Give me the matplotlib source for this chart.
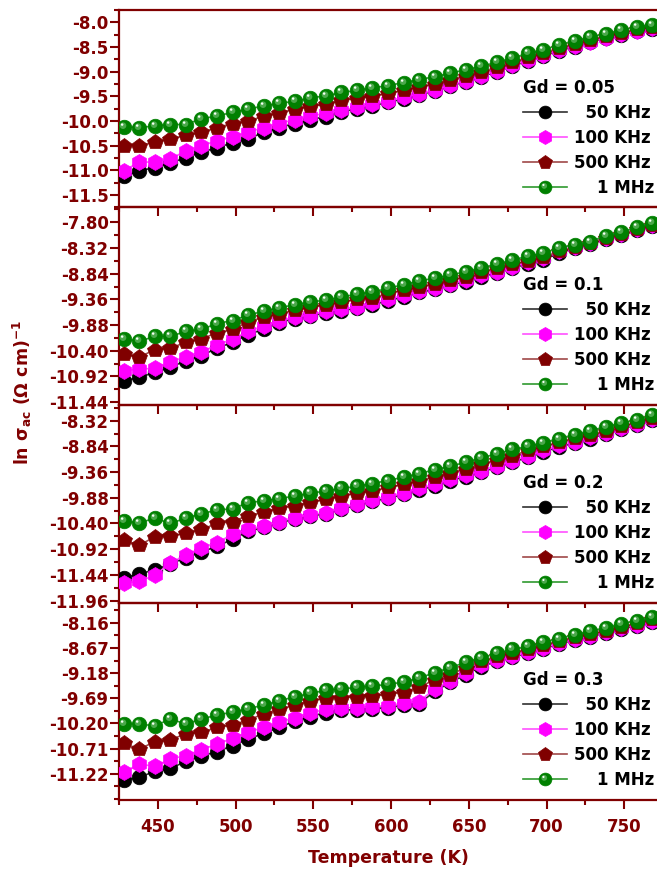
import numpy as np
import matplotlib
matplotlib.use("Agg")
import matplotlib.pyplot as plt
from matplotlib.ticker import FixedLocator, AutoMinorLocator, MultipleLocator
from matplotlib.path import Path
from matplotlib.markers import MarkerStyle
from matplotlib.legend_handler import HandlerTuple

plt.rcParams['font.family'] = ['DejaVu Sans']
plt.rcParams['font.weight'] = 'bold'
plt.rcParams['mathtext.default'] = 'bf'
plt.rcParams['axes.unicode_minus'] = False

# temperatura (K)
temps = [428, 438, 448, 458, 468, 478, 488, 498, 508, 518, 528, 538, 548, 558, 568, 578, 588,
         598, 608, 618, 628, 638, 648, 658, 668, 678, 688, 698, 708, 718, 728, 738, 748, 758, 768]

freq_labels = ['  50 KHz', '100 KHz', '500 KHz', '    1 MHz']
gd_labels = ['Gd = 0.05', 'Gd = 0.1', 'Gd = 0.2', 'Gd = 0.3']

# Gd = 0.05
gd005_50k = [-11.12, -11.01, -10.94, -10.85, -10.74, -10.63, -10.54, -10.44, -10.36, -10.23, -10.13, -10.05,
             -9.97, -9.91, -9.81, -9.75, -9.69, -9.62, -9.55, -9.47, -9.39, -9.29, -9.20, -9.10, -9.00,
             -8.89, -8.78, -8.68, -8.58, -8.49, -8.40, -8.32, -8.25, -8.18, -8.13]
gd005_100k = [-11.01, -10.83, -10.83, -10.76, -10.61, -10.50, -10.40, -10.32, -10.23, -10.13, -10.05, -9.97,
              -9.90, -9.84, -9.78, -9.72, -9.66, -9.59, -9.52, -9.45, -9.37, -9.27, -9.18, -9.08, -8.98,
              -8.87, -8.76, -8.66, -8.56, -8.47, -8.39, -8.31, -8.24, -8.17, -8.12]
gd005_500k = [-10.50, -10.50, -10.42, -10.36, -10.29, -10.23, -10.13, -10.05, -10.00, -9.90, -9.83, -9.76,
              -9.70, -9.66, -9.58, -9.54, -9.49, -9.44, -9.38, -9.31, -9.24, -9.16, -9.08, -9.00, -8.91,
              -8.81, -8.71, -8.62, -8.52, -8.43, -8.35, -8.28, -8.21, -8.14, -8.10]
gd005_1m = [-10.12, -10.13, -10.10, -10.07, -10.07, -9.95, -9.90, -9.82, -9.76, -9.69, -9.64, -9.60,
            -9.53, -9.49, -9.42, -9.38, -9.33, -9.28, -9.22, -9.16, -9.10, -9.03, -8.96, -8.89, -8.81,
            -8.72, -8.63, -8.55, -8.46, -8.37, -8.30, -8.23, -8.16, -8.09, -8.05]

# Gd = 0.1
gd01_50k = [-11.01, -10.94, -10.84, -10.74, -10.60, -10.50, -10.35, -10.23, -10.08, -9.96, -9.83, -9.75,
            -9.70, -9.63, -9.59, -9.54, -9.47, -9.39, -9.31, -9.22, -9.16, -9.07, -9.00, -8.90, -8.83,
            -8.73, -8.64, -8.56, -8.42, -8.33, -8.24, -8.13, -8.06, -7.96, -7.87]
gd01_100k = [-10.81, -10.77, -10.76, -10.62, -10.53, -10.43, -10.28, -10.17, -10.01, -9.90, -9.79, -9.72,
             -9.67, -9.60, -9.56, -9.51, -9.44, -9.36, -9.28, -9.19, -9.13, -9.04, -8.97, -8.87, -8.80,
             -8.70, -8.61, -8.53, -8.38, -8.29, -8.21, -8.11, -8.04, -7.94, -7.85]
gd01_500k = [-10.47, -10.53, -10.38, -10.35, -10.23, -10.16, -10.04, -9.97, -9.82, -9.72, -9.65, -9.58,
             -9.51, -9.48, -9.41, -9.36, -9.33, -9.24, -9.17, -9.11, -9.04, -8.97, -8.90, -8.80, -8.73,
             -8.65, -8.58, -8.51, -8.39, -8.31, -8.22, -8.11, -8.04, -7.94, -7.85]
gd01_1m = [-10.16, -10.21, -10.11, -10.11, -10.01, -9.97, -9.85, -9.79, -9.68, -9.60, -9.53, -9.47,
           -9.41, -9.38, -9.31, -9.26, -9.21, -9.14, -9.06, -8.99, -8.93, -8.87, -8.80, -8.72, -8.65,
           -8.56, -8.49, -8.42, -8.32, -8.25, -8.19, -8.07, -8.00, -7.90, -7.81]

# Gd = 0.2
gd02_50k = [-11.50, -11.42, -11.34, -11.22, -11.09, -10.98, -10.86, -10.72, -10.56, -10.48, -10.39, -10.31,
            -10.25, -10.20, -10.11, -10.03, -9.95, -9.89, -9.81, -9.72, -9.64, -9.53, -9.45, -9.36, -9.26,
            -9.16, -9.06, -8.95, -8.85, -8.77, -8.68, -8.58, -8.49, -8.40, -8.31]
gd02_100k = [-11.61, -11.57, -11.45, -11.20, -11.04, -10.89, -10.79, -10.62, -10.52, -10.45, -10.36, -10.28,
             -10.22, -10.18, -10.08, -10.00, -9.92, -9.86, -9.78, -9.69, -9.61, -9.50, -9.42, -9.33, -9.23,
             -9.13, -9.03, -8.92, -8.82, -8.74, -8.65, -8.56, -8.47, -8.38, -8.29]
gd02_500k = [-10.74, -10.84, -10.67, -10.66, -10.59, -10.52, -10.40, -10.36, -10.24, -10.17, -10.09, -10.04,
             -9.97, -9.91, -9.84, -9.78, -9.74, -9.67, -9.61, -9.54, -9.45, -9.37, -9.29, -9.20, -9.11,
             -9.03, -8.92, -8.84, -8.75, -8.67, -8.61, -8.52, -8.43, -8.35, -8.26]
gd02_1m = [-10.35, -10.39, -10.29, -10.40, -10.29, -10.20, -10.13, -10.10, -9.98, -9.94, -9.90, -9.84,
           -9.79, -9.74, -9.69, -9.65, -9.59, -9.53, -9.46, -9.39, -9.31, -9.24, -9.16, -9.07, -8.99,
           -8.90, -8.84, -8.76, -8.68, -8.60, -8.52, -8.44, -8.37, -8.30, -8.20]

# Gd = 0.3
gd03_50k = [-11.35, -11.29, -11.17, -11.11, -10.97, -10.86, -10.77, -10.65, -10.52, -10.40, -10.28, -10.15,
            -10.06, -9.98, -9.93, -9.92, -9.90, -9.88, -9.83, -9.80, -9.55, -9.37, -9.21, -9.05, -8.94,
            -8.86, -8.77, -8.69, -8.59, -8.51, -8.44, -8.37, -8.29, -8.22, -8.15]
gd03_100k = [-11.19, -11.02, -11.07, -10.92, -10.85, -10.73, -10.62, -10.50, -10.38, -10.28, -10.18, -10.08,
             -9.99, -9.91, -9.88, -9.88, -9.86, -9.84, -9.79, -9.76, -9.50, -9.33, -9.17, -9.02, -8.91,
             -8.84, -8.75, -8.67, -8.57, -8.49, -8.42, -8.35, -8.27, -8.20, -8.13]
gd03_500k = [-10.60, -10.72, -10.57, -10.53, -10.41, -10.38, -10.28, -10.23, -10.13, -10.01, -9.91, -9.83,
             -9.74, -9.68, -9.68, -9.66, -9.64, -9.61, -9.56, -9.47, -9.31, -9.21, -9.07, -8.94, -8.84,
             -8.77, -8.69, -8.62, -8.52, -8.45, -8.39, -8.32, -8.24, -8.17, -8.09]
gd03_1m = [-10.21, -10.21, -10.25, -10.11, -10.21, -10.11, -10.03, -9.97, -9.90, -9.83, -9.74, -9.66,
           -9.59, -9.53, -9.50, -9.47, -9.44, -9.41, -9.36, -9.28, -9.17, -9.07, -8.96, -8.87, -8.78,
           -8.70, -8.64, -8.56, -8.48, -8.40, -8.33, -8.26, -8.18, -8.12, -8.05]

# tick values on each y axis
yticks_005 = [-8.0, -8.5, -9.0, -9.5, -10.0, -10.5, -11.0, -11.5]
yticks_01 = [-7.80, -8.32, -8.84, -9.36, -9.88, -10.40, -10.92, -11.44]
yticks_02 = [-8.32, -8.84, -9.36, -9.88, -10.40, -10.92, -11.44, -11.96]
yticks_03 = [-8.16, -8.67, -9.18, -9.69, -10.20, -10.71, -11.22]

panels = [
    ([gd005_50k, gd005_100k, gd005_500k, gd005_1m], (-11.75, -7.75), yticks_005, '%.1f'),
    ([gd01_50k, gd01_100k, gd01_500k, gd01_1m], (-11.5, -7.5), yticks_01, '%.2f'),
    ([gd02_50k, gd02_100k, gd02_500k, gd02_1m], (-12.0, -8.0), yticks_02, '%.2f'),
    ([gd03_50k, gd03_100k, gd03_500k, gd03_1m], (-11.75, -7.75), yticks_03, '%.2f'),
]

MAROON = '#800000'
mk_colors = ['#000000', '#ff00ff', '#800000', '#008000']
ln_colors = ['#303030', '#ff50ff', '#a04848', '#2f9a2f']
markers = ['o', 'h', 'p', 'o']
msizes = [10.5, 11.5, 11.5, 10.5]


def spot_marker(cx, cy, r):
    # circulo fora do centro; os pontos (+-1,+-1) so servem para fixar a escala do marcador
    c = Path.circle(center=(cx, cy), radius=r)
    verts = np.vstack([c.vertices, [[1, 1], [-1, -1]]])
    codes = np.concatenate([c.codes, [Path.MOVETO, Path.MOVETO]])
    return MarkerStyle(Path(verts, codes))


glow = spot_marker(-0.2, 0.25, 0.45)
shine = spot_marker(-0.32, 0.4, 0.17)

fig = plt.figure(figsize=(6.57, 8.73), dpi=100)
gs = fig.add_gridspec(4, 1, left=119 / 657, right=1.0, top=1 - 10 / 873, bottom=1 - 800 / 873, hspace=0)

for k, (series, ylim, yt, fmt) in enumerate(panels):
    ax = fig.add_subplot(gs[k])
    ax.patch.set_alpha(0)
    handles = []
    for j, vals in enumerate(series):
        ln, = ax.plot(temps, vals, color=ln_colors[j], lw=1.2, marker=markers[j], ms=msizes[j],
                      mfc=mk_colors[j], mec=mk_colors[j], mew=0.5, zorder=3 + j)
        handles.append(ln)
    # 1 MHz: bolinhas com brilho
    h1, = ax.plot(temps, series[3], ls='none', marker=glow, ms=10.5, mfc='#4aa84a', mec='none', zorder=8)
    h2, = ax.plot(temps, series[3], ls='none', marker=shine, ms=10.5, mfc='#f4fff4', mec='none', zorder=9)
    handles[3] = (handles[3], h1, h2)

    ax.set_xlim(425, 771)
    ax.set_ylim(*ylim)
    ax.yaxis.set_major_locator(FixedLocator(yt))
    ax.set_yticklabels([fmt % v for v in yt])
    ax.yaxis.set_minor_locator(AutoMinorLocator(2))
    ax.xaxis.set_major_locator(MultipleLocator(50))
    ax.xaxis.set_minor_locator(MultipleLocator(25))

    for side in ['left', 'top', 'bottom']:
        ax.spines[side].set_color(MAROON)
        ax.spines[side].set_linewidth(1.6)
    ax.spines['right'].set_visible(False)
    ax.tick_params(which='both', direction='out', colors=MAROON, width=1.5,
                   top=False, right=False, labelsize=12, labelcolor=MAROON)
    ax.tick_params(which='major', length=6.5)
    ax.tick_params(which='minor', length=3.3)
    ax.tick_params(axis='y', pad=1)
    ax.tick_params(axis='x', pad=6.5)
    if k < 3:
        ax.tick_params(axis='x', labelbottom=False)

    leg = ax.legend(handles, freq_labels, title=gd_labels[k], loc='lower right',
                    bbox_to_anchor=(0.995, 0.055), frameon=False, fontsize=12, title_fontsize=12,
                    alignment='left', handlelength=2.65, handletextpad=0.4, labelspacing=0.42,
                    borderpad=0, borderaxespad=0, markerscale=0.88,
                    handler_map={tuple: HandlerTuple(ndivide=1)})
    leg.get_title().set_fontweight('bold')

fig.text(388 / 657, 1 - 858 / 873, 'Temperature (K)', ha='center', va='center',
         fontsize=12.5, color=MAROON)
fig.text(22 / 657, 1 - 392 / 873, 'ln σ$_{ac}$ (Ω cm)$^{-1}$', ha='center', va='center',
         rotation=90, fontsize=12.5, color=MAROON)

fig.savefig('out.png', dpi=100)
